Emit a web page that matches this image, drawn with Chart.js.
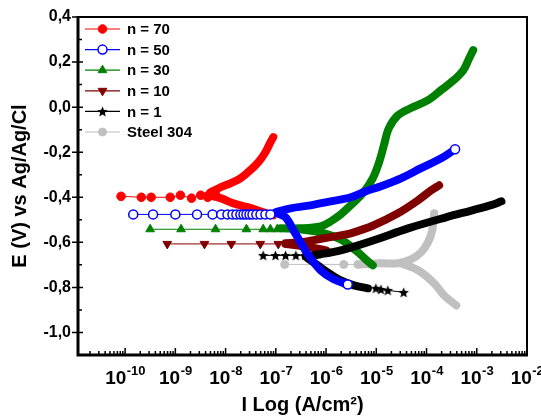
<!DOCTYPE html>
<html><head><meta charset="utf-8">
<script src="https://cdn.jsdelivr.net/npm/chart.js@4.4.1/dist/chart.umd.min.js"></script>
<style>html,body{margin:0;padding:0;background:#fff;}canvas{display:block;}</style>
</head><body>
<canvas id="c" width="541" height="420"></canvas>
<script>
// ---------- labels ----------
const seriesNames = ['n = 70', 'n = 50', 'n = 30', 'n = 10', 'n = 1', 'Steel 304'];
const xTickValues = [1e-10, 1e-9, 1e-8, 1e-7, 1e-6, 1e-5, 1e-4, 1e-3, 1e-2];
const xTickExponents = ['-10', '-9', '-8', '-7', '-6', '-5', '-4', '-3', '-2'];
const yTickValues = [0.4, 0.2, 0.0, -0.2, -0.4, -0.6, -0.8, -1.0];
const xTitle = 'I Log (A/cm²)';
const yTitle = 'E (V) vs Ag/Ag/Cl';

// ---------- n = 70 ----------
const n70SparseI = [8.3e-11, 2.1e-10, 3.3e-10, 7.9e-10, 1.26e-9, 2.1e-9, 3.2e-9, 4.4e-9, 6.3e-9];
const n70SparseE = [-0.396, -0.400, -0.400, -0.400, -0.391, -0.404, -0.391, -0.400, -0.387];
const n70AnodicI = [4.98e-9, 7.9e-9, 1.25e-8, 1.97e-8, 3.1e-8, 4.5e-8, 6.2e-8, 7.8e-8, 8.9e-8];
const n70AnodicE = [-0.378, -0.356, -0.338, -0.316, -0.280, -0.244, -0.200, -0.156, -0.133];
const n70CathodicI = [4.4e-9, 7.9e-9, 1.43e-8, 2.75e-8, 4.9e-8, 8.9e-8];
const n70CathodicE = [-0.391, -0.404, -0.427, -0.444, -0.462, -0.480];

// ---------- n = 50 ----------
const n50SparseI = [1.45e-10, 3.6e-10, 1.0e-9, 2.7e-9, 5.5e-9, 8.2e-9, 1.09e-8, 1.37e-8, 1.64e-8, 1.97e-8, 2.27e-8, 2.6e-8, 2.99e-8, 3.43e-8, 4.1e-8, 4.95e-8, 6.2e-8, 7.8e-8];
const n50SparseE = [-0.476, -0.476, -0.476, -0.476, -0.476, -0.476, -0.476, -0.476, -0.476, -0.476, -0.476, -0.476, -0.476, -0.476, -0.476, -0.476, -0.476, -0.476];
const n50AnodicI = [9.8e-8, 1.96e-7, 4.9e-7, 1.24e-6, 3.1e-6, 6.2e-6, 1.24e-5, 3.1e-5, 7.8e-5, 1.96e-4, 3.7e-4];
const n50AnodicE = [-0.467, -0.449, -0.436, -0.418, -0.400, -0.373, -0.351, -0.316, -0.271, -0.227, -0.187];
const n50CathodicI = [1.07e-7, 1.56e-7, 2.25e-7, 3.1e-7, 4.5e-7, 7.8e-7, 1.42e-6, 2.7e-6];
const n50CathodicE = [-0.471, -0.489, -0.547, -0.600, -0.658, -0.724, -0.764, -0.787];

// ---------- n = 30 ----------
const n30SparseI = [3.15e-10, 1.3e-9, 6.3e-9, 2.6e-8, 5.6e-8, 7.8e-8, 1.07e-7];
const n30SparseE = [-0.542, -0.542, -0.542, -0.542, -0.542, -0.542, -0.542];
const n30AnodicI = [1.24e-7, 3.1e-7, 7.8e-7, 1.24e-6, 1.96e-6, 3.4e-6, 5.6e-6, 8.5e-6, 1.12e-5, 1.42e-5, 1.78e-5, 2.7e-5, 4.9e-5, 1.07e-4, 1.96e-4, 3.5e-4, 5.4e-4, 7.1e-4, 8.5e-4];
const n30AnodicE = [-0.538, -0.538, -0.529, -0.507, -0.476, -0.427, -0.378, -0.316, -0.249, -0.169, -0.093, -0.036, -0.004, 0.031, 0.076, 0.120, 0.164, 0.218, 0.253];
const n30CathodicI = [3.1e-7, 7.8e-7, 1.96e-6, 3.9e-6, 6.2e-6, 8.5e-6];
const n30CathodicE = [-0.542, -0.556, -0.587, -0.636, -0.676, -0.702];

// ---------- n = 10 ----------
const n10SparseI = [6.9e-10, 3.8e-9, 1.3e-8, 4.9e-8, 1.12e-7];
const n10SparseE = [-0.607, -0.607, -0.607, -0.607, -0.607];
const n10AnodicI = [1.56e-7, 3.1e-7, 8.9e-7, 1.96e-6, 3.1e-6, 8.9e-6, 2.7e-5, 6.8e-5, 1.24e-4, 1.78e-4];
const n10AnodicE = [-0.604, -0.600, -0.582, -0.569, -0.560, -0.524, -0.471, -0.413, -0.369, -0.347];
const n10CathodicI = [1.56e-7, 3.9e-7, 1.0e-6];
const n10CathodicE = [-0.607, -0.618, -0.636];

// ---------- n = 1 ----------
const n1SparseI = [5.6e-8, 9.8e-8, 1.56e-7, 2.5e-7, 3.9e-7];
const n1SparseE = [-0.658, -0.658, -0.658, -0.658, -0.658];
const n1AnodicI = [3.9e-7, 7.8e-7, 1.96e-6, 8.9e-6, 4.3e-5, 2.44e-4, 7.8e-4, 1.93e-3, 3.1e-3];
const n1AnodicE = [-0.662, -0.653, -0.636, -0.591, -0.538, -0.489, -0.459, -0.435, -0.418];
const n1CathodicI = [4.3e-7, 6.8e-7, 1.07e-6, 1.96e-6, 3.6e-6, 6.8e-6];
const n1CathodicE = [-0.671, -0.702, -0.733, -0.769, -0.791, -0.804];
const n1TailI = [9.8e-6, 1.24e-5, 1.7e-5, 3.5e-5];
const n1TailE = [-0.804, -0.809, -0.813, -0.822];

// ---------- Steel 304 ----------
const steelSparseI = [1.5e-7, 2.25e-6, 4.3e-6];
const steelSparseE = [-0.698, -0.698, -0.698];
const steelAnodicI = [4.9e-6, 1.24e-5, 2.7e-5, 4.9e-5, 7.8e-5, 1.07e-4, 1.3e-4, 1.42e-4];
const steelAnodicE = [-0.698, -0.693, -0.693, -0.676, -0.644, -0.600, -0.547, -0.471];
const steelCathodicI = [3.1e-5, 6.8e-5, 1.42e-4, 2.25e-4, 3.9e-4];
const steelCathodicE = [-0.693, -0.724, -0.782, -0.836, -0.880];

// ---------- styles ----------
function makeStar(size, color) {
  const c = document.createElement('canvas');
  c.width = c.height = size;
  const g = c.getContext('2d');
  g.fillStyle = color; g.beginPath();
  const cx = size / 2, cy = size / 2 + 0.5, R = size / 2, r = R * 0.45;
  for (let i = 0; i < 10; i++) {
    const a = -Math.PI / 2 + i * Math.PI / 5, rr = i % 2 ? r : R;
    g.lineTo(cx + rr * Math.cos(a), cy + rr * Math.sin(a));
  }
  g.closePath(); g.fill();
  return c;
}
const starImg = makeStar(11, '#000000');

const styles = [
  {color: '#FF0000', marker: 'circle', rot: 0, fill: '#FF0000', radius: 4.3, pbw: 1, z: 1, endMarker: false},
  {color: '#0000FF', marker: 'circle', rot: 0, fill: '#FFFFFF', radius: 4.5, pbw: 1.5, z: 0, endMarker: true},
  {color: '#008000', marker: 'triangle', rot: 0, fill: '#008000', radius: 5, pbw: 1, z: 4, endMarker: false},
  {color: '#800000', marker: 'triangle', rot: 180, fill: '#800000', radius: 5, pbw: 1, z: 3, endMarker: false},
  {color: '#000000', marker: starImg, rot: 0, fill: '#000000', radius: 5, pbw: 1, z: 2, endMarker: false},
  {color: '#C0C0C0', marker: 'circle', rot: 0, fill: '#C0C0C0', radius: 4, pbw: 1, z: 5, endMarker: false}
];

const seriesParts = [
  {sparse: [[n70SparseI, n70SparseE]], bands: [[n70AnodicI, n70AnodicE], [n70CathodicI, n70CathodicE]]},
  {sparse: [[n50SparseI, n50SparseE]], bands: [[n50AnodicI, n50AnodicE], [n50CathodicI, n50CathodicE]]},
  {sparse: [[n30SparseI, n30SparseE]], bands: [[n30AnodicI, n30AnodicE], [n30CathodicI, n30CathodicE]]},
  {sparse: [[n10SparseI, n10SparseE]], bands: [[n10AnodicI, n10AnodicE], [n10CathodicI, n10CathodicE]]},
  {sparse: [[n1SparseI, n1SparseE], [n1TailI, n1TailE]], bands: [[n1AnodicI, n1AnodicE], [n1CathodicI, n1CathodicE]]},
  {sparse: [[steelSparseI, steelSparseE]], bands: [[steelAnodicI, steelAnodicE], [steelCathodicI, steelCathodicE]]}
];

const toPts = (I, E) => I.map((x, i) => ({x: x, y: E[i]}));

const datasets = [];
seriesParts.forEach((sp, si) => {
  const st = styles[si];
  sp.bands.forEach(([I, E]) => {
    datasets.push({
      label: seriesNames[si], data: toPts(I, E), showLine: true,
      borderColor: st.color, borderWidth: 8, borderCapStyle: 'round', borderJoinStyle: 'round',
      tension: 0.35, pointStyle: st.marker, rotation: st.rot,
      pointRadius: ctx => (st.endMarker && ctx.dataIndex === ctx.dataset.data.length - 1) ? st.radius : 0,
      pointBackgroundColor: st.fill, pointBorderColor: st.color, pointBorderWidth: st.pbw,
      order: st.z * 3 + 1
    });
  });
  sp.sparse.forEach(([I, E]) => {
    datasets.push({
      label: seriesNames[si], data: toPts(I, E), showLine: true,
      borderColor: st.color, borderWidth: 1, tension: 0,
      pointStyle: st.marker, rotation: st.rot, pointRadius: st.radius,
      pointBackgroundColor: st.fill, pointBorderColor: st.color, pointBorderWidth: st.pbw,
      order: st.z * 3
    });
  });
});

const FONT = "'Liberation Sans', Arial, sans-serif";

const decorPlugin = {
  id: 'decor',
  afterDatasetsDraw(chart) {
    const {ctx, chartArea: a, scales: {x, y}} = chart;
    ctx.save();
    ctx.strokeStyle = '#000';
    // x ticks (inward)
    ctx.lineWidth = 1.5;
    ctx.beginPath();
    for (let k = -11; k <= -2; k++) {
      for (let m = 1; m <= 9; m++) {
        const v = m * Math.pow(10, k);
        const px = x.getPixelForValue(v);
        if (px < a.left + 1 || px > a.right - 1) continue;
        const len = m === 1 ? 7 : 4;
        ctx.moveTo(px, a.bottom); ctx.lineTo(px, a.bottom - len);
      }
    }
    // y ticks
    yTickValues.forEach((v, i) => {
      const py = y.getPixelForValue(v);
      ctx.moveTo(a.left - 6, py); ctx.lineTo(a.left + 5, py);
      if (i < yTickValues.length - 1) {
        const pm = y.getPixelForValue((v + yTickValues[i + 1]) / 2);
        ctx.moveTo(a.left, pm); ctx.lineTo(a.left + 4, pm);
      }
    });
    ctx.stroke();
    // frame
    ctx.lineWidth = 2;
    ctx.strokeRect(a.left, a.top, a.right - a.left, a.bottom - a.top);
    ctx.lineWidth = 3;
    ctx.beginPath();
    ctx.moveTo(a.left, a.top - 1); ctx.lineTo(a.left, a.bottom); ctx.lineTo(a.right + 1, a.bottom);
    ctx.stroke();
    // x tick labels: 10 with raised exponent
    ctx.fillStyle = '#000';
    ctx.textBaseline = 'alphabetic';
    ctx.textAlign = 'left';
    const baseFont = 'bold 19px ' + FONT, expFont = 'bold 13px ' + FONT;
    xTickValues.forEach((v, i) => {
      const px = x.getPixelForValue(v);
      ctx.font = baseFont; const w1 = ctx.measureText('10').width;
      ctx.font = expFont; const w2 = ctx.measureText(xTickExponents[i]).width;
      const left = px - (w1 + w2) / 2;
      ctx.font = baseFont; ctx.fillText('10', left, a.bottom + 29);
      ctx.font = expFont; ctx.fillText(xTickExponents[i], left + w1 + 0.5, a.bottom + 20);
    });
    // legend
    ctx.font = 'bold 15px ' + FONT;
    ctx.textBaseline = 'middle';
    seriesNames.forEach((name, i) => {
      const st = styles[i];
      const ly = a.top + 12 + i * 20.6;
      const lx = a.left + 7;
      ctx.strokeStyle = st.color; ctx.lineWidth = 1.2;
      ctx.beginPath(); ctx.moveTo(lx, ly); ctx.lineTo(lx + 35, ly); ctx.stroke();
      ctx.fillStyle = st.fill; ctx.strokeStyle = st.color; ctx.lineWidth = st.pbw;
      Chart.helpers.drawPoint(ctx, {pointStyle: st.marker, rotation: st.rot, radius: st.radius, borderWidth: st.pbw}, lx + 17.5, ly);
      ctx.fillStyle = '#000';
      ctx.fillText(name, lx + 42, ly + 1);
    });
    ctx.restore();
  }
};

new Chart(document.getElementById('c'), {
  type: 'scatter',
  data: {datasets: datasets},
  options: {
    responsive: false, animation: false, devicePixelRatio: 1, events: [],
    layout: {padding: {top: 17, right: 14, left: 0, bottom: 0}},
    plugins: {legend: {display: false}, tooltip: {enabled: false}, title: {display: false}},
    scales: {
      x: {
        type: 'logarithmic', position: 'bottom',
        min: Math.pow(10, -10.938), max: 1e-2,
        grid: {display: false, drawTicks: false}, border: {display: false},
        afterBuildTicks: s => { s.ticks = xTickValues.map(v => ({value: v})); },
        afterFit: s => { s.height = 65; s.paddingLeft = 0; s.paddingRight = 0; },
        ticks: {display: false, autoSkip: false},
        title: {display: true, text: xTitle, color: '#000', padding: {top: 0, bottom: 3},
                font: {family: FONT, weight: 'bold', size: 20}}
      },
      y: {
        type: 'linear', position: 'left', min: -1.1, max: 0.4,
        grid: {display: false, drawTicks: false}, border: {display: false},
        afterBuildTicks: s => { s.ticks = yTickValues.map(v => ({value: v})); },
        afterFit: s => { s.width = 78; s.paddingTop = 0; s.paddingBottom = 0; },
        ticks: {
          autoSkip: false, padding: 7, color: '#000',
          font: {family: FONT, weight: 'bold', size: 16},
          callback: v => (Math.abs(v) < 1e-9 ? '0,0' : v.toFixed(1).replace('.', ','))
        },
        title: {display: true, text: yTitle, color: '#000', padding: {top: 8, bottom: 0},
                font: {family: FONT, weight: 'bold', size: 20}}
      }
    }
  },
  plugins: [decorPlugin]
});
</script>
</body></html>
